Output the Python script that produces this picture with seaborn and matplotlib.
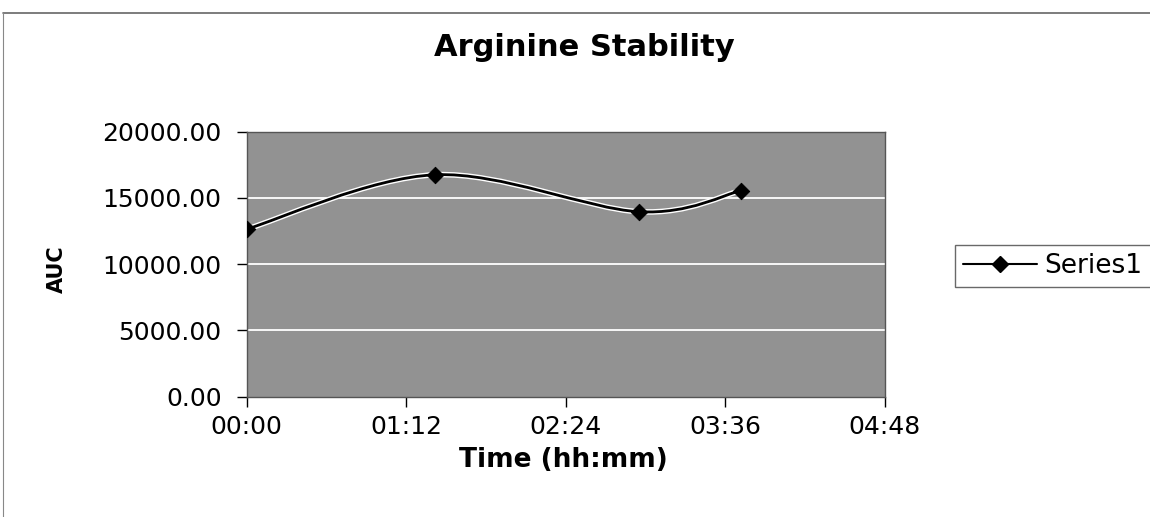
import matplotlib
matplotlib.use("Agg")
import matplotlib.pyplot as plt
import matplotlib.patheffects as pe
from matplotlib.path import Path
from matplotlib.patches import PathPatch
from matplotlib.lines import Line2D
import seaborn as sns
import pandas as pd
import numpy as np

# ---- data ----
times = ["00:00", "01:25", "02:57", "03:43"]
auc = [12650, 16750, 13960, 15550]
x_ticks = ["00:00", "01:12", "02:24", "03:36", "04:48"]
y_ticks = [0, 5000, 10000, 15000, 20000]
series_name = "Series1"

def to_min(s):
    h, m = s.split(":")
    return int(h) * 60 + int(m)

df = pd.DataFrame({"t": [to_min(s) for s in times], "AUC": auc})

sns.set_theme(style="white")
plt.rcParams["font.family"] = ["DejaVu Sans"]
plt.rcParams["text.color"] = "black"
plt.rcParams["axes.labelcolor"] = "black"

W, H = 1150, 517
fig = plt.figure(figsize=(11.5, 5.17), dpi=100)
ax = fig.add_axes([246.7 / W, 1 - 396.7 / H, (885 - 246.7) / W, (396.7 - 131.7) / H])
ax.set_facecolor("#929292")

# smoothed line (Excel style, cubic Bezier through the data points)
xs = df["t"].to_numpy(float)
ys = df["AUC"].to_numpy(float)
n = len(xs)
verts = [(xs[0], ys[0])]
codes = [Path.MOVETO]
for i in range(n - 1):
    p0 = (xs[max(i - 1, 0)], ys[max(i - 1, 0)])
    p1 = (xs[i], ys[i])
    p2 = (xs[i + 1], ys[i + 1])
    p3 = (xs[min(i + 2, n - 1)], ys[min(i + 2, n - 1)])
    c1 = (p1[0] + (p2[0] - p0[0]) / 6, p1[1] + (p2[1] - p0[1]) / 6)
    c2 = (p2[0] - (p3[0] - p1[0]) / 6, p2[1] - (p3[1] - p1[1]) / 6)
    verts += [c1, c2, p2]
    codes += [Path.CURVE4] * 3
patch = PathPatch(Path(verts, codes), facecolor="none", edgecolor="black", lw=2,
                  zorder=3,
                  path_effects=[pe.Stroke(linewidth=4, foreground="white"), pe.Normal()])
ax.add_patch(patch)

sns.scatterplot(data=df, x="t", y="AUC", marker="D", s=70, color="black",
                edgecolor="black", ax=ax, zorder=4, legend=False)

ax.set_xlim(0, 288)
ax.set_ylim(0, 20000)
ax.set_xticks([to_min(s) for s in x_ticks])
ax.set_xticklabels(x_ticks)
ax.set_yticks(y_ticks)
ax.set_yticklabels([f"{v:.2f}" for v in y_ticks])
for v in y_ticks[1:-1]:
    ax.axhline(v, color="white", lw=1.3, zorder=1)

ax.tick_params(axis="both", which="both", direction="out", length=7, width=1,
               color="black", labelsize=18, labelcolor="black", bottom=True, left=True)
ax.tick_params(axis="x", pad=6)
ax.tick_params(axis="y", pad=11)
for sp in ax.spines.values():
    sp.set_color("#555555")
    sp.set_linewidth(1)

ax.set_xlabel("Time (hh:mm)", fontsize=19, fontweight="bold", va="center")
ax.xaxis.set_label_coords(0.4955, (396.7 - 460) / 265)
ax.set_ylabel("AUC", fontsize=15, fontweight="bold", va="center")
ax.yaxis.set_label_coords((57 - 246.7) / 638.3, 0.48)
fig.text(584 / W, 1 - 48 / H, "Arginine Stability", ha="center", va="center",
         fontsize=22, fontweight="bold")

handle = Line2D([0], [0], color="black", lw=1.5, marker="D", markersize=8,
                markerfacecolor="black")
leg = fig.legend([handle], [series_name], loc="center left",
                 bbox_to_anchor=(955 / W, 1 - 266 / H), frameon=True,
                 fontsize=19, handlelength=2.8, handletextpad=0.3,
                 borderpad=0.3, borderaxespad=0, fancybox=False)
leg.get_frame().set_edgecolor("#444444")
leg.get_frame().set_linewidth(1)

# chart-area border (top and left)
fig.add_artist(Line2D([3 / W, 1], [1 - 13 / H, 1 - 13 / H], color="#666666", lw=1.2,
                      transform=fig.transFigure))
fig.add_artist(Line2D([3 / W, 3 / W], [0, 1 - 13 / H], color="#888888", lw=0.8,
                      transform=fig.transFigure))

fig.savefig("out.png", dpi=100)
